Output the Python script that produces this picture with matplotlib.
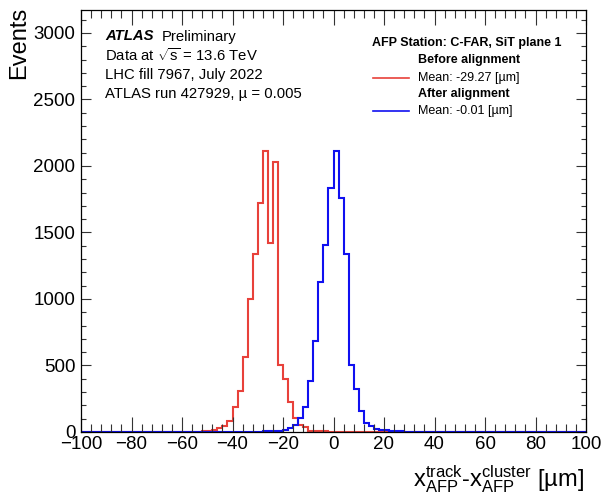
import numpy as np
import matplotlib
matplotlib.use("Agg")
import matplotlib.pyplot as plt
from matplotlib.ticker import MultipleLocator
from matplotlib.lines import Line2D

plt.rcParams['font.family'] = ['Liberation Sans', 'DejaVu Sans']
plt.rcParams['mathtext.fontset'] = 'custom'
plt.rcParams['mathtext.rm'] = 'Liberation Sans'
plt.rcParams['mathtext.it'] = 'Liberation Sans:italic'
plt.rcParams['mathtext.bf'] = 'Liberation Sans:bold'

# Histogram binning: 100 bins of 2 um between -100 and 100 um
x_lo, x_hi, bin_w = -100, 100, 2

# Residual counts per bin, before alignment
before_counts = [
    0, 0, 0, 0, 0, 0, 0, 0, 0, 0,            # -100 .. -80
    0, 0, 0, 0, 0, 0, 0, 0, 0, 0,            # -80 .. -60
    1, 1, 2, 3, 5, 10, 18, 28, 45, 85,       # -60 .. -40
    185, 307, 565, 997, 1337, 1722, 2115, 1420, 2032, 507,   # -40 .. -20
    402, 222, 102, 52, 35, 10, 6, 8, 4, 3,   # -20 .. 0
    2, 2, 1, 1, 1, 1, 1, 1, 1, 1,            # 0 .. 20
    0, 0, 0, 0, 0, 0, 0, 0, 0, 0,            # 20 .. 40
    0, 0, 0, 0, 0, 0, 0, 0, 0, 0,            # 40 .. 60
    0, 0, 0, 0, 0, 0, 0, 0, 0, 0,            # 60 .. 80
    0, 0, 0, 0, 0, 0, 0, 0, 0, 0,            # 80 .. 100
]

# Residual counts per bin, after alignment
after_counts = [
    0, 0, 0, 0, 0, 0, 0, 0, 0, 0,            # -100 .. -80
    0, 0, 0, 0, 0, 0, 0, 0, 0, 0,            # -80 .. -60
    0, 0, 0, 0, 0, 0, 0, 0, 0, 0,            # -60 .. -40
    0, 0, 0, 2, 2, 3, 4, 5, 7, 10,           # -40 .. -20
    15, 30, 52, 105, 190, 385, 685, 1127, 1407, 1832,   # -20 .. 0
    2110, 1760, 1337, 502, 320, 160, 70, 48, 25, 15,    # 0 .. 20
    12, 10, 6, 4, 3, 2, 1, 1, 0, 0,          # 20 .. 40
    0, 0, 0, 0, 0, 0, 0, 0, 0, 0,            # 40 .. 60
    0, 0, 0, 0, 0, 0, 0, 0, 0, 0,            # 60 .. 80
    0, 0, 0, 0, 0, 0, 0, 0, 0, 0,            # 80 .. 100
]

mean_before = -29.27
mean_after = -0.01

edges = np.arange(x_lo, x_hi + bin_w, bin_w)

W, H = 604, 495
fig = plt.figure(figsize=(W / 100, H / 100), dpi=100)


def px(x, y):
    return x / W, 1 - y / H


left, right, top, bottom = 81, 586, 10, 432
ax = fig.add_axes([left / W, 1 - bottom / H, (right - left) / W, (bottom - top) / H])

red = '#e8413a'
blue = '#1010f0'
ax.stairs(before_counts, edges, color=red, lw=1.5, baseline=0)
ax.stairs(after_counts, edges, color=blue, lw=1.5, baseline=0)

ymax = 1.5 * max(max(before_counts), max(after_counts))
ax.set_xlim(x_lo, x_hi)
ax.set_ylim(0, ymax)

ax.xaxis.set_major_locator(MultipleLocator(20))
ax.xaxis.set_minor_locator(MultipleLocator(4))
ax.yaxis.set_major_locator(MultipleLocator(500))
ax.yaxis.set_minor_locator(MultipleLocator(100))

ax.tick_params(axis='both', which='both', direction='in', top=True, right=True,
               color='#333333', width=0.8)
ax.tick_params(axis='x', which='major', length=11, labelsize=13.5, pad=3)
ax.tick_params(axis='x', which='minor', length=5.5)
ax.tick_params(axis='y', which='major', length=7, labelsize=13.5, pad=4)
ax.tick_params(axis='y', which='minor', length=3.5)
for s in ax.spines.values():
    s.set_linewidth(0.9)

# Axis titles
fig.text(*px(19, 7), 'Events', rotation=90, ha='center', va='top', fontsize=17)
fig.text(*px(584, 486),
         r'$\mathrm{x}^{\mathrm{track}}_{\mathrm{AFP}}$-$\mathrm{x}^{\mathrm{cluster}}_{\mathrm{AFP}}$ [µm]',
         ha='right', va='baseline', fontsize=17)

# Experiment label block
fs_lab = 10.7
fig.text(*px(105, 36.5), 'ATLAS', fontsize=fs_lab, fontweight='bold', style='italic',
         ha='left', va='center')
fig.text(*px(161.5, 36.5), 'Preliminary', fontsize=fs_lab, ha='left', va='center')
fig.text(*px(105, 55), r'Data at $\sqrt{\mathrm{s}}$ = 13.6 TeV', fontsize=fs_lab,
         ha='left', va='center')
fig.text(*px(105, 74.5), 'LHC fill 7967, July 2022', fontsize=fs_lab, ha='left', va='center')
fig.text(*px(105, 94), 'ATLAS run 427929, µ = 0.005', fontsize=fs_lab, ha='left', va='center')

# Legend
fs_leg = 9
fig.text(*px(467, 43), 'AFP Station: C-FAR, SiT plane 1', fontsize=fs_leg, fontweight='bold',
         ha='center', va='center')
fig.text(*px(417.5, 59.5), 'Before alignment', fontsize=fs_leg, fontweight='bold',
         ha='left', va='center')
fig.text(*px(417.5, 77.5), f'Mean: {mean_before:.2f} [µm]', fontsize=fs_leg,
         ha='left', va='center')
fig.text(*px(417.5, 93.5), 'After alignment', fontsize=fs_leg, fontweight='bold',
         ha='left', va='center')
fig.text(*px(417.5, 111), f'Mean: {mean_after:.2f} [µm]', fontsize=fs_leg,
         ha='left', va='center')
for ypix, col in ((77.5, red), (111, blue)):
    x0, y0 = px(373, ypix)
    x1, _ = px(409, ypix)
    fig.add_artist(Line2D([x0, x1], [y0, y0], color=col, lw=1.2, transform=fig.transFigure))

fig.savefig('out.png', dpi=100)
